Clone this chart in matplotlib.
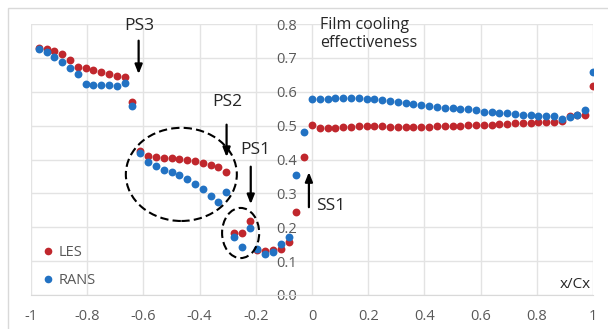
import matplotlib
matplotlib.use("Agg")
import matplotlib.pyplot as plt
from matplotlib.patches import Ellipse
from matplotlib.lines import Line2D

plt.rcParams['font.family'] = ['Open Sans', 'DejaVu Sans']

# x/Cx stations: pressure side negative, suction side positive
x_pos = [-0.972, -0.944, -0.917, -0.889, -0.861, -0.833, -0.806, -0.778, -0.750,
         -0.722, -0.694, -0.667, -0.639, -0.611, -0.583, -0.556, -0.528, -0.500,
         -0.472, -0.444, -0.417, -0.389, -0.361, -0.333, -0.306, -0.278, -0.250,
         -0.222, -0.194, -0.167, -0.139, -0.111, -0.083, -0.056, -0.028,
         0.000, 0.028, 0.056, 0.083, 0.111, 0.139, 0.167, 0.194, 0.222, 0.250,
         0.278, 0.306, 0.333, 0.361, 0.389, 0.417, 0.444, 0.472, 0.500, 0.528,
         0.556, 0.583, 0.611, 0.639, 0.667, 0.694, 0.722, 0.750, 0.778, 0.806,
         0.833, 0.861, 0.889, 0.917, 0.944, 0.972, 1.000]

les = [0.729, 0.726, 0.719, 0.711, 0.694, 0.674, 0.670, 0.664, 0.658,
       0.652, 0.646, 0.643, 0.569, 0.426, 0.410, 0.406, 0.404, 0.403,
       0.402, 0.399, 0.396, 0.391, 0.385, 0.377, 0.364, 0.184, 0.182,
       0.217, 0.133, 0.129, 0.133, 0.136, 0.155, 0.244, 0.406,
       0.503, 0.492, 0.492, 0.494, 0.496, 0.497, 0.498, 0.500, 0.499, 0.498,
       0.497, 0.496, 0.496, 0.496, 0.496, 0.497, 0.498, 0.498, 0.499, 0.500,
       0.501, 0.502, 0.502, 0.503, 0.505, 0.506, 0.507, 0.508, 0.509, 0.510,
       0.510, 0.510, 0.513, 0.527, 0.531, 0.530, 0.616]

rans = [0.727, 0.717, 0.704, 0.689, 0.670, 0.651, 0.624, 0.621, 0.619,
        0.619, 0.617, 0.626, 0.559, 0.418, 0.392, 0.382, 0.370, 0.364,
        0.355, 0.343, 0.327, 0.312, 0.291, 0.276, 0.303, 0.172, 0.141,
        0.199, 0.137, 0.121, 0.126, 0.152, 0.172, 0.353, 0.480,
        0.578, 0.579, 0.580, 0.582, 0.582, 0.582, 0.582, 0.580, 0.580, 0.576,
        0.574, 0.570, 0.566, 0.564, 0.560, 0.558, 0.555, 0.552, 0.551, 0.550,
        0.549, 0.547, 0.541, 0.539, 0.538, 0.536, 0.534, 0.532, 0.530, 0.529,
        0.528, 0.527, 0.521, 0.525, 0.530, 0.545, 0.659]

x_ticks = [-1, -0.8, -0.6, -0.4, -0.2, 0, 0.2, 0.4, 0.6, 0.8, 1]
x_labels = ['-1', '-0.8', '-0.6', '-0.4', '-0.2', '0', '0.2', '0.4', '0.6', '0.8', '1']
y_ticks = [0.0, 0.1, 0.2, 0.3, 0.4, 0.5, 0.6, 0.7, 0.8]
y_labels = ['0.0', '0.1', '0.2', '0.3', '0.4', '0.5', '0.6', '0.7', '0.8']

red = '#C0272D'
blue = '#2272C3'
grey = '#595959'
ink = '#262626'

fig = plt.figure(figsize=(6.08, 3.29), dpi=100)
# light chart border (only top/left edge visible)
fig.patches.append(plt.Rectangle((8 / 608, -0.1), 1.2, (329 - 8) / 329 + 0.1,
                                 transform=fig.transFigure, fill=False,
                                 edgecolor='#d9d9d9', lw=1.0))
ax = fig.add_axes([31 / 608, 34 / 329, 562 / 608, 271 / 329])

ax.scatter(x_pos, les, s=32, color=red, zorder=3, linewidths=0)
ax.scatter(x_pos, rans, s=32, color=blue, zorder=3, linewidths=0)

ax.set_xlim(-1, 1)
ax.set_ylim(0, 0.8)
ax.set_xticks(x_ticks)
ax.set_xticklabels(x_labels)
ax.set_yticks(y_ticks)
ax.set_yticklabels(y_labels)
ax.grid(True, color='#e3e3e3', lw=1.0, zorder=0)
for s in ['top', 'right', 'left']:
    ax.spines[s].set_visible(False)
ax.spines['bottom'].set_color('#d9d9d9')
ax.spines['left'].set_position(('data', 0))
ax.tick_params(axis='both', length=0, labelcolor=grey, labelsize=10.5)
ax.tick_params(axis='x', pad=10)
ax.tick_params(axis='y', pad=11)

# arrows marking film-hole rows
arrow = dict(arrowstyle='-|>,head_length=0.55,head_width=0.22', color='black', lw=1.6)
ax.annotate('', xy=(-0.617, 0.644), xytext=(-0.617, 0.759), arrowprops=arrow)
ax.annotate('', xy=(-0.304, 0.399), xytext=(-0.304, 0.511), arrowprops=arrow)
ax.annotate('', xy=(-0.218, 0.260), xytext=(-0.218, 0.387), arrowprops=arrow)
ax.annotate('', xy=(-0.011, 0.371), xytext=(-0.011, 0.251), arrowprops=arrow)

lbl = dict(fontsize=12.5, color=ink)
ax.text(-0.613, 0.795, 'PS3', ha='center', va='center', clip_on=False, **lbl)
ax.text(-0.300, 0.570, 'PS2', ha='center', va='center', **lbl)
ax.text(-0.200, 0.428, 'PS1', ha='center', va='center', **lbl)
ax.text(0.016, 0.262, 'SS1', ha='left', va='center', **lbl)
ax.text(0.029, 0.820, 'Film cooling\neffectiveness', ha='left', va='top',
        fontsize=11.5, color=ink, linespacing=1.15, clip_on=False)
ax.text(0.991, 0.030, 'x/Cx', ha='right', va='center', fontsize=11, color=ink)

ax.add_patch(Ellipse((-0.465, 0.356), 0.395, 0.275, fill=False, ls=(0, (4, 2)),
                     lw=1.5, edgecolor='black', zorder=4))
ax.add_patch(Ellipse((-0.254, 0.183), 0.132, 0.148, fill=False, ls=(0, (4, 2)),
                     lw=1.5, edgecolor='black', zorder=4))

handles = [Line2D([], [], ls='none', marker='o', ms=5.5, color=red, mec='none'),
           Line2D([], [], ls='none', marker='o', ms=5.5, color=blue, mec='none')]
leg = ax.legend(handles, ['LES', 'RANS'], loc='upper left', frameon=False,
                bbox_to_anchor=(44 / 608, 1 - 245 / 329), bbox_transform=fig.transFigure,
                handlelength=0.6, handletextpad=0.4, labelspacing=0.9, fontsize=10.5,
                borderpad=0, borderaxespad=0)
for t in leg.get_texts():
    t.set_color(grey)

fig.savefig('out.png', dpi=100)
